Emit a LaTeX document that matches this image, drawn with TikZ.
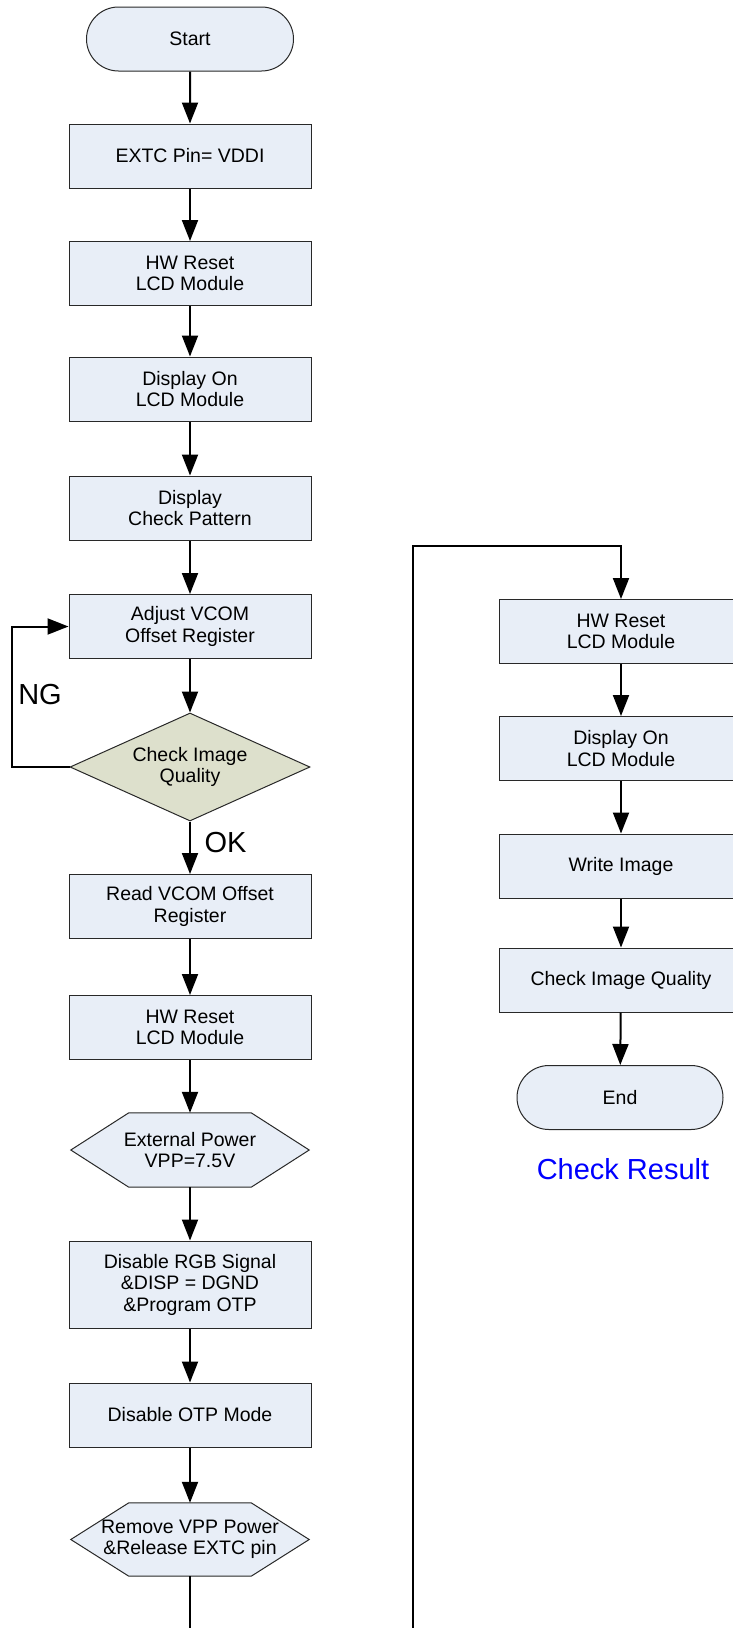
\documentclass[tikz,border=0pt]{standalone}
\usepackage{fontspec}
\setmainfont{Liberation Sans}
\usetikzlibrary{shapes.geometric,shapes.misc,arrows.meta,backgrounds}
\definecolor{boxfill}{RGB}{232,238,247}
\definecolor{decfill}{RGB}{221,224,204}
\definecolor{edgec}{RGB}{40,40,40}
\begin{document}
\begin{tikzpicture}[x=1pt,y=-1pt,
  every node/.style={font=\fontsize{19.5}{21.5}\selectfont, align=center, text=black},
  proc/.style={draw=edgec, line width=1pt, fill=boxfill, minimum width=242pt, minimum height=64pt, inner sep=0pt},
  term/.style={rounded rectangle, draw=edgec, line width=1pt, fill=boxfill, minimum width=207pt, minimum height=64pt, inner sep=0pt},
  dec/.style={diamond, draw=edgec, line width=1pt, fill=decfill, minimum width=240pt, minimum height=108pt, inner sep=0pt, aspect=2.2},
  hexa/.style={rectangle, minimum width=238pt, minimum height=74pt, inner sep=0pt},
  hexline/.style={draw=edgec, line width=1pt, fill=boxfill},
  arr/.style={line width=2pt, -{Triangle[length=21pt,width=16pt]}},
  big/.style={font=\fontsize{29}{32}\selectfont}
]
\useasboundingbox (0,0) rectangle (733,1628);
\clip (0,0) rectangle (733,1628);
% left column
\node[term] (start) at (190,39) {Start};
\node[proc] (extc) at (190,156) {EXTC Pin= VDDI};
\node[proc] (hw1) at (190,273.5) {HW Reset\\LCD Module};
\node[proc] (don1) at (190,389) {Display On\\LCD Module};
\node[proc] (pat) at (190,508) {Display\\Check Pattern};
\node[proc] (adj) at (190,626.5) {Adjust VCOM\\Offset Register};
\node[dec] (chk) at (190,767) {Check Image\\Quality};
\node[proc] (rd) at (190,906.5) {Read VCOM Offset\\Register};
\node[proc] (hw2) at (190,1027.5) {HW Reset\\LCD Module};
\node[hexa] (ext) at (190,1150) {External Power\\VPP=7.5V};
\node[proc, minimum height=87pt] (dis) at (190,1284.5) {Disable RGB Signal\\\&DISP = DGND\\\&Program OTP};
\node[proc] (otp) at (190,1415) {Disable OTP Mode};
\node[hexa, minimum height=73pt] (rem) at (190,1539.5) {Remove VPP Power\\\&Release EXTC pin};
\begin{scope}[on background layer]
\path[hexline] (ext.west) -- ([xshift=58pt]ext.north west) -- ([xshift=-58pt]ext.north east) -- (ext.east) -- ([xshift=-58pt]ext.south east) -- ([xshift=58pt]ext.south west) -- cycle;
\path[hexline] (rem.west) -- ([xshift=58pt]rem.north west) -- ([xshift=-58pt]rem.north east) -- (rem.east) -- ([xshift=-58pt]rem.south east) -- ([xshift=58pt]rem.south west) -- cycle;
\end{scope}
% right column
\node[proc, minimum width=244pt] (hw3) at (621,631.5) {HW Reset\\LCD Module};
\node[proc, minimum width=244pt] (don2) at (621,748.5) {Display On\\LCD Module};
\node[proc, minimum width=244pt] (wr) at (621,866) {Write Image};
\node[proc, minimum width=244pt] (cq) at (621,980) {Check Image Quality};
\node[term, minimum width=206pt] (end) at (620,1097.5) {End};
\node[big, text=blue] (res) at (623,1169) {Check Result};
% labels
\node[big] (ng) at (40,695) {NG};
\node[big, anchor=west] (ok) at (201,843) {OK};
% coordinates
\coordinate (ngc1) at (12,767);
\coordinate (ngc2) at (12,626.5);
\coordinate (b1) at (190,1650);
\coordinate (b2) at (413,1650);
\coordinate (t1) at (413,546);
\coordinate (t2) at (621,546);
% connectors
\draw[arr] (start) -- (extc);
\draw[arr] (extc) -- (hw1);
\draw[arr] (hw1) -- (don1);
\draw[arr] (don1) -- (pat);
\draw[arr] (pat) -- (adj);
\draw[arr] (adj) -- (chk);
\draw[arr] (chk) -- (rd);
\draw[arr] (rd) -- (hw2);
\draw[arr] (hw2) -- (ext);
\draw[arr] (ext) -- (dis);
\draw[arr] (dis) -- (otp);
\draw[arr] (otp) -- (rem);
\draw[arr] (chk.west) -- (ngc1) -- (ngc2) -- (adj.west);
\draw[arr] (rem.south) -- (b1) -- (b2) -- (t1) -- (t2) -- (hw3.north);
\draw[arr] (hw3) -- (don2);
\draw[arr] (don2) -- (wr);
\draw[arr] (wr) -- (cq);
\draw[arr] (cq) -- (end);
\end{tikzpicture}
\end{document}
